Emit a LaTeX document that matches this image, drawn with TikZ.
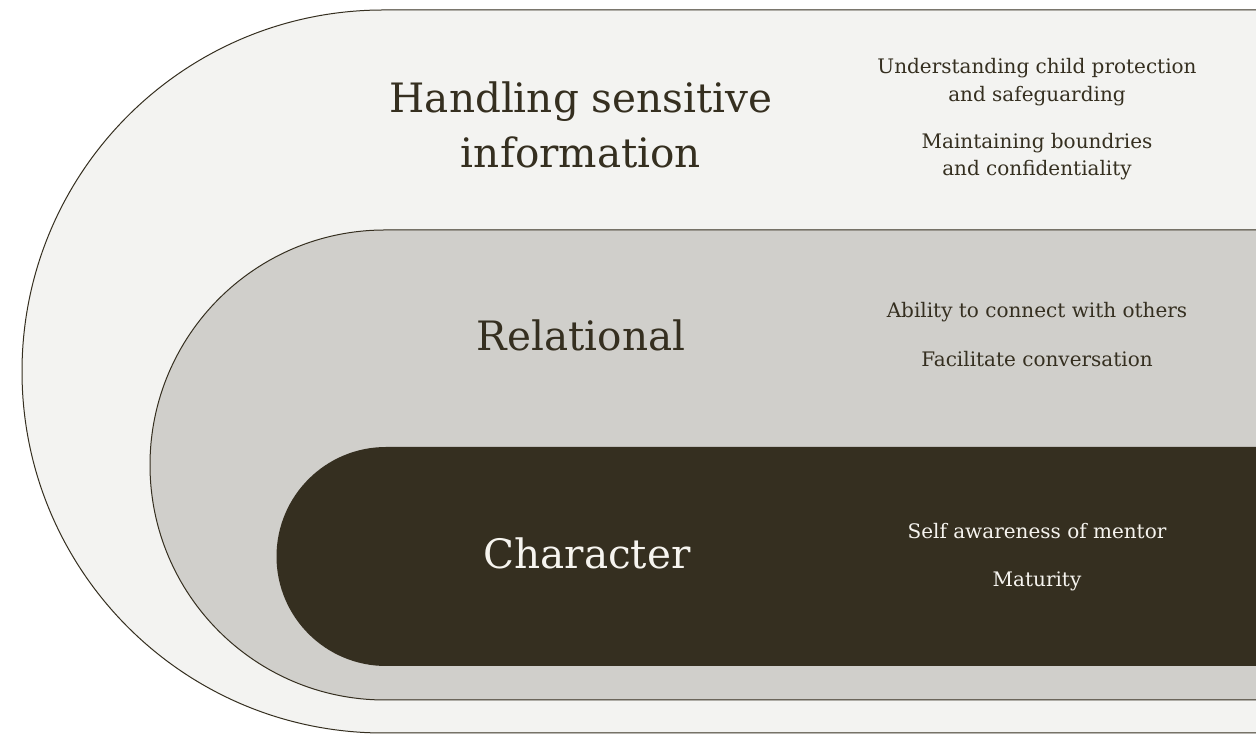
\documentclass[tikz,border=0pt]{standalone}
\usepackage{fontspec}
\setmainfont{DejaVu Serif}
\definecolor{outerfill}{HTML}{F3F3F1}
\definecolor{midfill}{HTML}{D0CFCB}
\definecolor{innerfill}{HTML}{352F20}
\definecolor{ink}{HTML}{352F20}
\definecolor{lightink}{HTML}{F6F4EF}
\tikzset{
  band/.style={line width=1pt, draw=ink},
  bigtext/.style={anchor=base, inner sep=0pt, font=\fontsize{40.5}{44}\selectfont},
  smalltext/.style={anchor=base, inner sep=0pt, font=\fontsize{20}{24}\selectfont},
}
\begin{document}
\begin{tikzpicture}[x=1pt,y=1pt]
\useasboundingbox (0,0) rectangle (1256,735);
\fill[white] (0,0) rectangle (1256,735);
% outer band
\filldraw[band, fill=outerfill] (1256,725) -- (383.5,725) arc[start angle=90,end angle=270,radius=361.5] -- (1256,2);
% middle band
\filldraw[band, fill=midfill] (1256,505) -- (385,505) arc[start angle=90,end angle=270,radius=235] -- (1256,35);
% inner band
\fill[innerfill] (1256,288) -- (386,288) arc[start angle=90,end angle=270,radius=109.5] -- (1256,69) -- cycle;
% titles
\node[bigtext, text=ink] (h1) at (581,622) {Handling sensitive};
\node[bigtext, text=ink] (h2) at (581,567) {information};
\node[bigtext, text=ink] (rel) at (581,384) {Relational};
\node[bigtext, text=lightink] (chr) at (587,166) {Character};
% right texts
\node[smalltext, text=ink] (u1) at (1037,661) {Understanding child protection};
\node[smalltext, text=ink] (u2) at (1037,633) {and safeguarding};
\node[smalltext, text=ink] (m1) at (1037,586) {Maintaining boundries};
\node[smalltext, text=ink] (m2) at (1037,559) {and confidentiality};
\node[smalltext, text=ink] (a1) at (1037,417) {Ability to connect with others};
\node[smalltext, text=ink] (f1) at (1037,368) {Facilitate conversation};
\node[smalltext, text=lightink] (s1) at (1037,196) {Self awareness of mentor};
\node[smalltext, text=lightink] (mt) at (1037,148) {Maturity};
\end{tikzpicture}
\end{document}
